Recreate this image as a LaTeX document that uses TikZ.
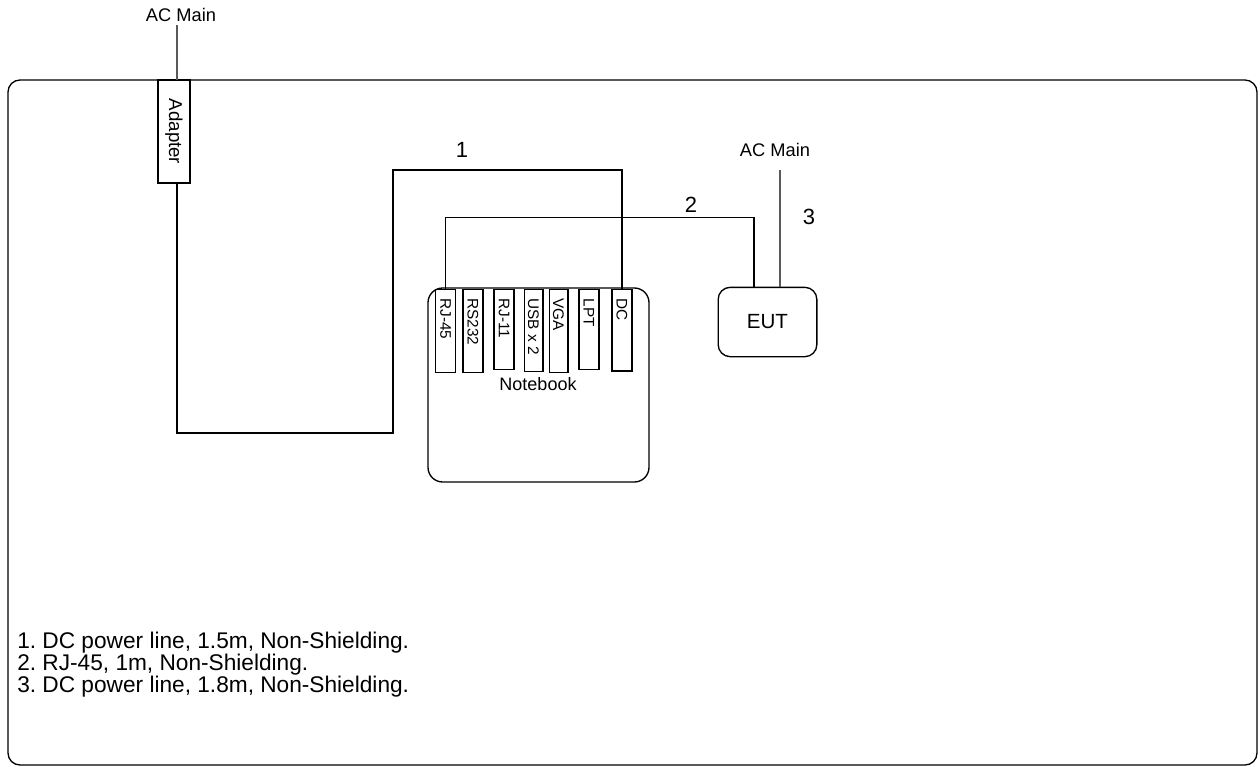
\documentclass[tikz,border=0pt]{standalone}
\usepackage{fontspec}
\setmainfont{Liberation Sans}
\frenchspacing
\begin{document}
\begin{tikzpicture}[x=0.75pt,y=-0.75pt,
  wire/.style={line width=1pt,black},
  acwire/.style={line width=1pt,black!65},
  port/.style={draw,line width=1pt,minimum width=15pt,inner sep=0pt,anchor=north},
  portlabel/.style={rotate=-90,anchor=west,inner sep=0pt,font=\fontsize{11.5}{12}\selectfont},
  lbl/.style={inner sep=0pt,font=\fontsize{13.7}{15}\selectfont},
  num/.style={inner sep=0pt,font=\fontsize{16.5}{18}\selectfont},
  legend/.style={inner sep=0pt,anchor=base west,font=\fontsize{17}{18}\selectfont}]
\useasboundingbox (0,0) rectangle (1260,767);
% outer frame
\draw[line width=1pt,rounded corners=9pt] (8,80) rectangle (1257,765);
% top AC main and adapter
\node[lbl] (acm1) at (181,15) {AC Main};
\node[draw,fill=white,line width=1pt,minimum width=24pt,minimum height=77pt,inner sep=0pt] (adapter) at (174,131.5) {};
\node[rotate=-90,inner sep=0pt,font=\fontsize{14}{15}\selectfont] (adlbl) at (adapter.center) {Adapter};
\coordinate (adtop) at (177,80);
\coordinate (adbot) at (177,183);
\draw[acwire] (177,25) -- (adtop);
% notebook
\draw[line width=1pt,rounded corners=11pt] (428,288) rectangle (649,482);
\node[lbl,font=\fontsize{13.5}{15}\selectfont] (nb) at (538,384) {Notebook};
\node[port,minimum height=62pt] (rj45) at (445.5,289) {};
\node[port,minimum height=62pt] (rs232) at (473,289) {};
\node[port,minimum height=60pt] (rj11) at (504,289) {};
\node[port,minimum height=61.5pt,minimum width=14pt] (usb) at (533.5,289) {};
\node[port,minimum height=62pt,minimum width=14pt] (vga) at (558.5,289) {};
\node[port,minimum height=60pt] (lpt) at (589,289) {};
\node[port,minimum height=61pt] (dc) at (622,289) {};
\node[portlabel] at ([yshift=-7pt]rj45.north) {RJ-45};
\node[portlabel] at ([yshift=-7pt]rs232.north) {RS232};
\node[portlabel] at ([yshift=-7pt]rj11.north) {RJ-11};
\node[portlabel] at ([yshift=-7pt]usb.north) {USB x 2};
\node[portlabel] at ([yshift=-7pt]vga.north) {VGA};
\node[portlabel] at ([yshift=-7pt]lpt.north) {LPT};
\node[portlabel] at ([yshift=-7pt]dc.north) {DC};
% EUT
\node[draw,line width=1pt,rounded corners=9pt,minimum width=74pt,minimum height=52pt,inner sep=0pt,
      font=\fontsize{15.4}{17}\selectfont] (eut) at (767.5,322) {EUT};
\node[lbl] (acm2) at (775,150) {AC Main};
% cables
\draw[wire] (adbot) -- (177,433) -| (393,170) -| (dc.north);
\draw[wire] (rj45.north) |- (754,217.5) -- (754,0 |- eut.north);
\draw[acwire] (780,170) -- (780,0 |- eut.north);
\node[num] (n1) at (462,150) {1};
\node[num] (n2) at (691,205) {2};
\node[num] (n3) at (809,217) {3};
% legend
\node[legend] (l1) at (17,648) {1. DC power line, 1.5m, Non-Shielding.};
\node[legend] (l2) at (17,670) {2. RJ-45, 1m, Non-Shielding.};
\node[legend] (l3) at (17,692) {3. DC power line, 1.8m, Non-Shielding.};
\end{tikzpicture}
\end{document}
